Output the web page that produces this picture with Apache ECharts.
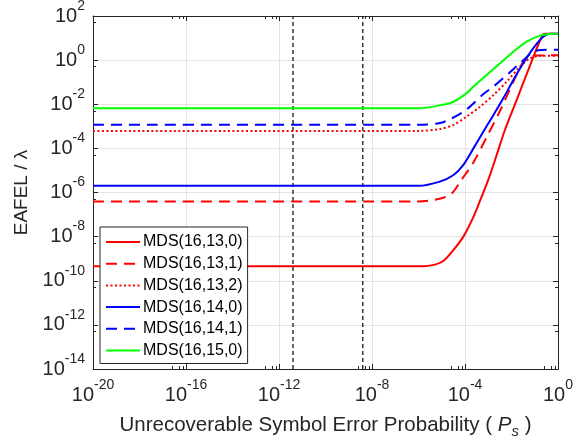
<!DOCTYPE html>
<html>
<head>
<meta charset="utf-8">
<script src="https://cdn.jsdelivr.net/npm/echarts@6/dist/echarts.min.js"></script>
<style>html,body{margin:0;padding:0;background:#fff}#c{width:575px;height:440px}</style>
</head>
<body>
<div id="c"></div>
<script>
const seriesNames = ['MDS(16,13,0)', 'MDS(16,13,1)', 'MDS(16,13,2)', 'MDS(16,14,0)', 'MDS(16,14,1)', 'MDS(16,15,0)'];

const ps_16_13_0 = [1e-20, 1e-6, 4e-6, 1.2e-5, 3.2e-5, 8.5e-5, 2.3e-4, 5.2e-4, 1e-3, 2.3e-3, 5.2e-3, 1.66e-2, 6.3e-2, 0.2, 0.28, 1];
const eafel_16_13_0 = [4.5e-10, 4.5e-10, 5.1e-10, 8.1e-10, 2.5e-9, 1e-8, 7.9e-8, 6.5e-7, 3.7e-6, 5e-5, 6.8e-4, 1.55e-2, 0.58, 11.5, 15.5, 15.5];

const ps_16_13_1 = [1e-20, 1e-6, 5e-6, 1.6e-5, 3.2e-5, 6.2e-5, 2.3e-4, 8.5e-4, 3.2e-3, 1.2e-2, 3.2e-2, 5.6e-2, 8.7e-2, 1];
const eafel_16_13_1 = [3.9e-7, 3.9e-7, 4.7e-7, 6.5e-7, 1.1e-6, 3.1e-6, 2.3e-5, 3.2e-4, 5e-3, 0.105, 0.85, 1.32, 1.6, 1.65];

const ps_16_13_2 = [1e-20, 1e-6, 8.3e-6, 3.2e-5, 1.17e-4, 4.5e-4, 1.66e-3, 6.2e-3, 2.3e-2, 6.3e-2, 0.17, 1];
const eafel_16_13_2 = [6.2e-4, 6.2e-4, 7.6e-4, 1.15e-3, 2.75e-3, 7.8e-3, 2.6e-2, 0.105, 0.5, 1.2, 1.58, 1.6];

const ps_16_14_0 = [1e-20, 1e-6, 8.3e-6, 3.2e-5, 8.5e-5, 2.3e-4, 6.2e-4, 1.66e-3, 4.5e-3, 1.2e-2, 3.2e-2, 8.7e-2, 0.23, 0.45, 1];
const eafel_16_14_0 = [2.0e-6, 2.0e-6, 3.1e-6, 6.2e-6, 1.8e-5, 1e-4, 5.8e-4, 3.2e-3, 1.9e-2, 0.126, 0.72, 3.5, 11.5, 15.5, 15.5];

const ps_16_14_1 = [1e-20, 1e-6, 8.3e-6, 2.7e-5, 1.17e-4, 6.2e-4, 1.66e-3, 7.6e-3, 2.3e-2, 8.7e-2, 0.2, 1];
const eafel_16_14_1 = [1.17e-3, 1.17e-3, 1.4e-3, 2.3e-3, 5.8e-3, 2.9e-2, 6.3e-2, 0.25, 0.72, 2.4, 2.9, 2.95];

const ps_16_15_0 = [1e-20, 1e-6, 8.3e-6, 3.2e-5, 1.17e-4, 2.3e-4, 8.5e-4, 3.2e-3, 1.2e-2, 4.5e-2, 0.17, 0.46, 1];
const eafel_16_15_0 = [6.6e-3, 6.6e-3, 8.9e-3, 1.3e-2, 3.2e-2, 6.3e-2, 0.21, 0.72, 2.4, 6.9, 12.9, 15.2, 15.5];

const markerPs = [4e-12, 4e-9];

const xMin = 1e-20, xMax = 1, yMin = 1e-14, yMax = 1e2;

const FONT = '"Liberation Sans", Arial, Helvetica, sans-serif';
const AXIS_COLOR = '#262626';
const GRID_COLOR = '#e3e3e3';

function pairs(xs, ys) { return xs.map((x, i) => [x, ys[i]]); }

const seriesDefs = [
  { x: ps_16_13_0, y: eafel_16_13_0, color: '#ff0000', type: 'solid' },
  { x: ps_16_13_1, y: eafel_16_13_1, color: '#ff0000', type: [11, 7] },
  { x: ps_16_13_2, y: eafel_16_13_2, color: '#ff0000', type: [2, 2.5] },
  { x: ps_16_14_0, y: eafel_16_14_0, color: '#0000ff', type: 'solid' },
  { x: ps_16_14_1, y: eafel_16_14_1, color: '#0000ff', type: [11, 7] },
  { x: ps_16_15_0, y: eafel_16_15_0, color: '#00ff00', type: 'solid' }
];

const powRich = {
  b: { fontSize: 20, fontFamily: FONT, color: '#262626', lineHeight: 34 },
  s: { fontSize: 14, fontFamily: FONT, color: '#262626', verticalAlign: 'top', lineHeight: 14 }
};
function powLabel(v) {
  const e = Math.round(Math.log10(v));
  return '{b|10}{s|' + e + '}';
}

const series = seriesDefs.map((d, i) => ({
  name: seriesNames[i],
  type: 'line',
  data: pairs(d.x, d.y),
  symbol: 'none',
  smooth: 0.3,
  lineStyle: { color: d.color, width: 2, type: d.type },
  itemStyle: { color: d.color },
  z: 3
}));

markerPs.forEach((v, k) => {
  series.push({
    name: 'marker' + k,
    type: 'line',
    data: [[v, yMin], [v, yMax]],
    symbol: 'none',
    silent: true,
    lineStyle: { color: '#333333', width: 1.5, type: [4, 3] },
    z: 2
  });
});

const chart = echarts.init(document.getElementById('c'), null, { renderer: 'canvas' });
chart.setOption({
  animation: false,
  backgroundColor: '#ffffff',
  grid: { left: 93, right: 17, top: 16, bottom: 71, containLabel: false, outerBoundsMode: 'none' },
  xAxis: [
    {
      type: 'log', logBase: 10, min: xMin, max: xMax, interval: 4,
      name: '{t|Unrecoverable Symbol Error Probability ( }{i|P}{sub|s}{t| )}',
      nameLocation: 'middle', nameGap: 42,
      nameTextStyle: {
        rich: {
          t: { fontSize: 20.5, fontFamily: FONT, color: '#262626', lineHeight: 28 },
          i: { fontSize: 20.5, fontFamily: FONT, fontStyle: 'italic', color: '#262626', lineHeight: 28 },
          sub: { fontSize: 15, fontFamily: FONT, fontStyle: 'italic', color: '#262626', verticalAlign: 'bottom', lineHeight: 10 }
        }
      },
      axisLine: { show: true, lineStyle: { color: AXIS_COLOR, width: 1 } },
      axisTick: { show: true, inside: true, length: 5, lineStyle: { color: AXIS_COLOR } },
      minorTick: { show: true, splitNumber: 4, length: 3, lineStyle: { color: AXIS_COLOR } },
      splitLine: { show: true, lineStyle: { color: GRID_COLOR, width: 1 } },
      axisLabel: { formatter: powLabel, rich: powRich, margin: 9 }
    },
    {
      type: 'log', logBase: 10, min: xMin, max: xMax, interval: 4, position: 'top',
      axisLine: { show: true, lineStyle: { color: AXIS_COLOR, width: 1 } },
      axisTick: { show: true, inside: true, length: 5, lineStyle: { color: AXIS_COLOR } },
      minorTick: { show: true, splitNumber: 4, length: 3, lineStyle: { color: AXIS_COLOR } },
      splitLine: { show: false }, axisLabel: { show: false }
    }
  ],
  yAxis: [
    {
      type: 'log', logBase: 10, min: yMin, max: yMax, interval: 2,
      name: 'EAFEL / λ',
      nameLocation: 'middle', nameGap: 55,
      nameTextStyle: { fontSize: 19, fontFamily: FONT, color: '#262626' },
      axisLine: { show: true, lineStyle: { color: AXIS_COLOR, width: 1 } },
      axisTick: { show: true, inside: true, length: 5, lineStyle: { color: AXIS_COLOR } },
      minorTick: { show: true, splitNumber: 2, length: 3, lineStyle: { color: AXIS_COLOR } },
      splitLine: { show: true, lineStyle: { color: GRID_COLOR, width: 1 } },
      axisLabel: { formatter: powLabel, rich: powRich, margin: 8 }
    },
    {
      type: 'log', logBase: 10, min: yMin, max: yMax, interval: 2, position: 'right',
      axisLine: { show: true, lineStyle: { color: AXIS_COLOR, width: 1 } },
      axisTick: { show: true, inside: true, length: 5, lineStyle: { color: AXIS_COLOR } },
      minorTick: { show: true, splitNumber: 2, length: 3, lineStyle: { color: AXIS_COLOR } },
      splitLine: { show: false }, axisLabel: { show: false }
    }
  ],
  legend: {
    data: seriesNames,
    orient: 'vertical',
    left: 100, top: 227,
    itemWidth: 34, itemHeight: 14, itemGap: 5.7,
    padding: [7, 5, 5, 5],
    borderColor: '#262626', borderWidth: 1,
    backgroundColor: '#ffffff',
    itemStyle: { opacity: 0 },
    textStyle: { fontSize: 16, fontFamily: FONT, color: '#000000', lineHeight: 16, padding: [0, 0, 0, -2] }
  },
  series: series
});
</script>
</body>
</html>
